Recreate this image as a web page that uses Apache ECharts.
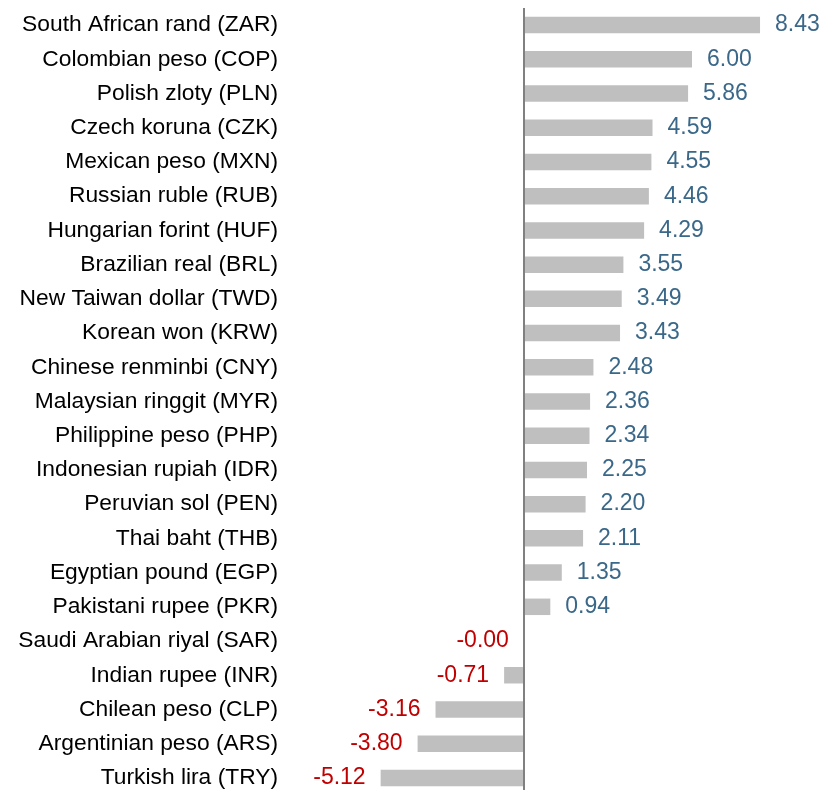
<!DOCTYPE html>
<html>
<head>
<meta charset="utf-8">
<script src="https://cdn.jsdelivr.net/npm/echarts@6/dist/echarts.min.js"></script>
<style>
html,body{margin:0;padding:0;background:#fff;}
#chart{width:838px;height:790px;}
</style>
</head>
<body>
<div id="chart"></div>
<script>
var categories = [
  "South African rand (ZAR)","Colombian peso (COP)","Polish zloty (PLN)","Czech koruna (CZK)",
  "Mexican peso (MXN)","Russian ruble (RUB)","Hungarian forint (HUF)","Brazilian real (BRL)",
  "New Taiwan dollar (TWD)","Korean won (KRW)","Chinese renminbi (CNY)","Malaysian ringgit (MYR)",
  "Philippine peso (PHP)","Indonesian rupiah (IDR)","Peruvian sol (PEN)","Thai baht (THB)",
  "Egyptian pound (EGP)","Pakistani rupee (PKR)","Saudi Arabian riyal (SAR)","Indian rupee (INR)",
  "Chilean peso (CLP)","Argentinian peso (ARS)","Turkish lira (TRY)"
];
var values = [8.43,6.00,5.86,4.59,4.55,4.46,4.29,3.55,3.49,3.43,2.48,2.36,2.34,2.25,2.20,2.11,1.35,0.94,-0.004,-0.71,-3.16,-3.80,-5.12];
var xTicks = {min:-6, max:9};

var posColor = '#3b6889', negColor = '#c00000';
var data = values.map(function(v){
  return {
    value: v,
    label: {
      position: v < 0 ? 'left' : 'right',
      color: v < 0 ? negColor : posColor
    }
  };
});

var chart = echarts.init(document.getElementById('chart'), null, {renderer:'canvas'});
chart.setOption({
  animation: false,
  backgroundColor: '#ffffff',
  grid: {left: 356, right: 62, top: 8, height: 787, containLabel: false, outerBoundsMode: 'none'},
  xAxis: {
    type: 'value', min: xTicks.min, max: xTicks.max,
    show: false,
    splitLine: {show: false}
  },
  yAxis: {
    type: 'category',
    data: categories,
    inverse: true,
    axisLine: {show: false, onZero: false},
    axisTick: {show: false},
    axisLabel: {
      margin: 78,
      fontFamily: 'Liberation Sans, Arial, sans-serif',
      fontSize: 22.8,
      color: '#000000'
    }
  },
  series: [{
    type: 'bar',
    data: data,
    barWidth: 16.5,
    itemStyle: {color: '#bfbfbf'},
    label: {
      show: true,
      distance: 15,
      fontFamily: 'Liberation Sans, Arial, sans-serif',
      fontSize: 23,
      formatter: function(p){ return p.value.toFixed(2); }
    },
    markLine: {
      silent: true,
      symbol: ['none','none'],
      label: {show: false},
      lineStyle: {color: '#808080', width: 2, type: 'solid'},
      data: [{xAxis: 0}]
    }
  }]
});
</script>
</body>
</html>
